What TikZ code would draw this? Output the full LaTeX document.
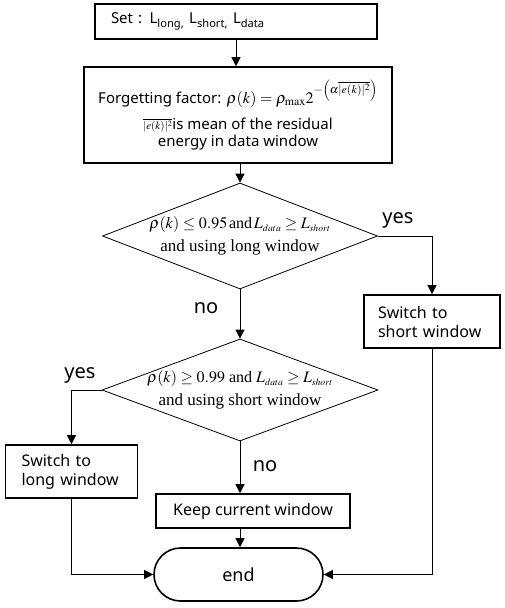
\documentclass[tikz,border=0pt]{standalone}
\usepackage{mathptmx}
\usepackage[no-math]{fontspec}
\setmainfont{Liberation Serif}
\newfontfamily\boxfont{Noto Sans}
\usetikzlibrary{arrows.meta,shapes.geometric}
\tikzset{
  pbox/.style={draw, line width=1.6pt, font=\boxfont\fontsize{16}{19}\selectfont, inner sep=0pt},
  decis/.style={draw, line width=0.8pt, diamond, inner sep=0pt},
  cond/.style={font=\fontsize{16}{23}\selectfont, align=center},
  flow/.style={line width=0.8pt, -{Triangle[length=9pt,width=9pt]}},
  lab/.style={font=\boxfont\fontsize{20}{22}\selectfont}
}
\begin{document}
\begin{tikzpicture}[x=1pt,y=-1pt]
\useasboundingbox (0,0) rectangle (505,608);
% boxes
\node[pbox, font=\boxfont\fontsize{15}{19}\selectfont, minimum width=282pt, minimum height=35pt, text width=250pt, align=left] (set) at (236,21.5)
  {Set : L\textsubscript{long,} L\textsubscript{short,} L\textsubscript{data}};
\node[pbox, font=\boxfont\fontsize{15}{17}\selectfont, minimum width=308pt, minimum height=96pt, align=center] (forget) at (238,115)
  {Forgetting factor: {\fontsize{16}{17}\selectfont$\rho(k)=\rho_{\max}2^{-\left(\alpha\overline{|e(k)|^{2}}\right)}$}\\[9pt]
   {\fontsize{11}{11}\selectfont$\overline{|e(k)|^{2}}$}is mean of the residual\\
   energy in data window};
\node[decis, minimum width=275pt, minimum height=106pt] (d1) at (240,236) {};
\node[cond] at (d1.center) {$\rho(k)\le 0.95\,$and$\,L_{\scriptscriptstyle data}\ge L_{\scriptscriptstyle short}$\\{\fontsize{17}{17}\selectfont and using long window}};
\node[decis, minimum width=276pt, minimum height=102pt] (d2) at (240,390) {};
\node[cond] at (d2.center) {$\rho(k)\ge 0.99$ and $L_{\scriptscriptstyle data}\ge L_{\scriptscriptstyle short}$\\{\fontsize{17}{17}\selectfont and using short window}};
\node[pbox, minimum width=136pt, minimum height=53pt, text width=108pt, align=left] (short) at (432,321.5)
  {Switch to\\short window};
\node[pbox, minimum width=132pt, minimum height=53pt, text width=100pt, align=left] (long) at (71.5,471.5)
  {Switch to\\long window};
\node[pbox, minimum width=194pt, minimum height=34pt] (keep) at (253,511) {Keep current window};
\node[pbox, font=\boxfont\fontsize{18}{19}\selectfont, minimum width=169pt, minimum height=53pt, rounded corners=26.5pt] (end) at (238.5,574.5) {end};
% connectors
\draw[flow] (set.south) -- (set.south |- forget.north);
\draw[flow] (d1.north |- forget.south) -- (d1.north);
\draw[flow] (d1.south) -- (d2.north);
\draw[flow] (d1.east) -| (short.north);
\draw[flow] (d2.west) -| (long.north);
\draw[flow] (d2.south) -- (d2.south |- keep.north);
\draw[flow] (d2.south |- keep.south) -- (d2.south |- end.north);
\draw[flow] (long.south) |- (end.west);
\draw[flow] (short.south) |- (end.east);
% labels
\node[lab] at (398,220) {yes};
\node[lab] at (206,308) {no};
\node[lab] at (80,375) {yes};
\node[lab] at (265,466) {no};
\end{tikzpicture}
\end{document}
